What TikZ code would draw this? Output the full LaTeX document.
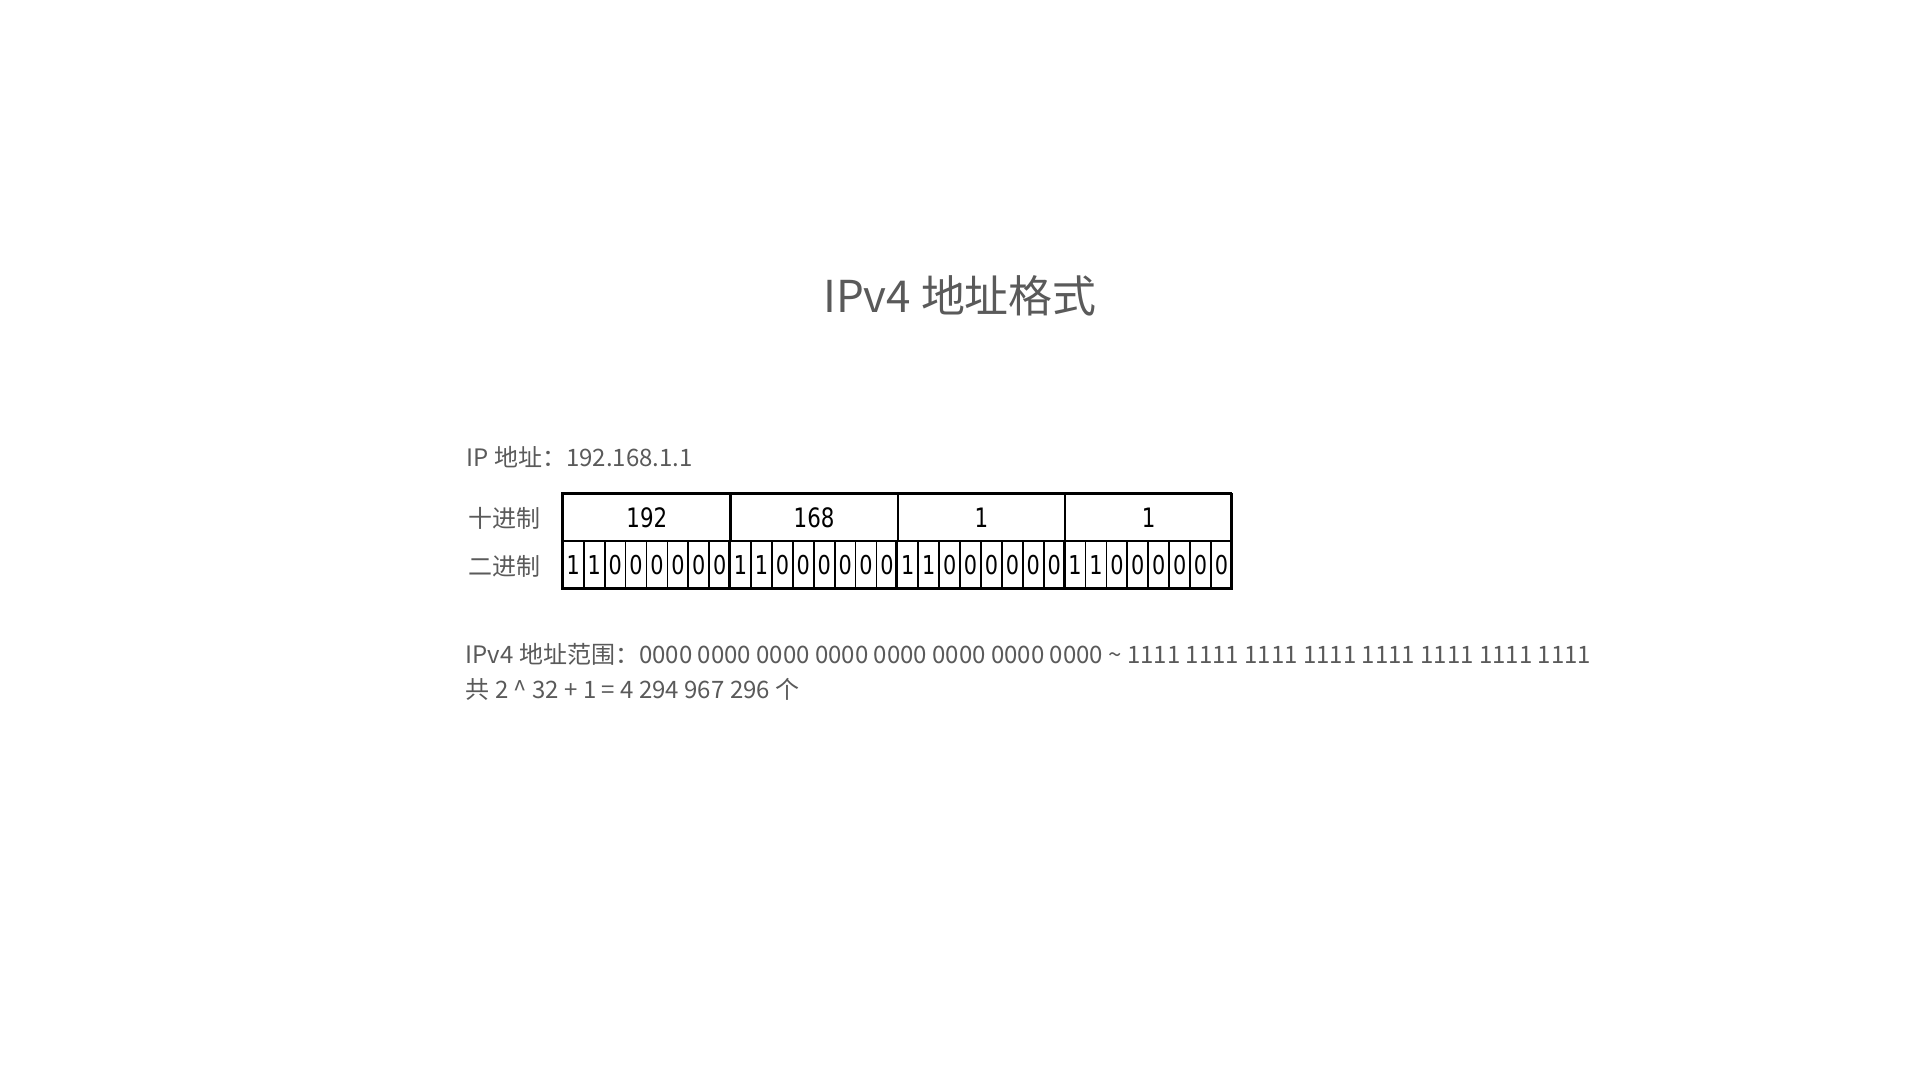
\documentclass[tikz,border=0pt]{standalone}
\usepackage{fontspec}
\setmainfont{Noto Sans CJK SC}
\newfontfamily\cellfont[FakeStretch=0.8]{DejaVu Sans}
\usepackage{xcolor}
\usepackage{tikz}
\usetikzlibrary{positioning, calc}
\definecolor{textgray}{RGB}{90,90,90}

\begin{document}
\begin{tikzpicture}[
    plaintext/.style={text=textgray, font=\fontsize{6.83}{8}\selectfont, inner sep=0pt, anchor=west},
    bytecell/.style={draw, line width=0.7pt, minimum width=1.6725cm, minimum height=0.47cm, inner sep=0pt, font=\cellfont\fontsize{7.6}{8}\selectfont},
    bitcell/.style={draw, line width=0.5pt, minimum width=0.2091cm, minimum height=0.48cm, inner sep=0pt, font=\cellfont\fontsize{7.4}{8}\selectfont}
]
    \useasboundingbox[fill=white] (0,0) rectangle (19.2,10.8);

    % Title
    \node[text=textgray, font=\fontsize{12.5}{14}\selectfont] (title) at (9.6,7.84) {IPv4 地址格式};

    % Example address
    \node[plaintext] (addr) at (4.66,6.23) {IP 地址：192.168.1.1};

    % Row labels
    \node[plaintext] (declabel) at (4.68,5.62) {十进制};
    \node[plaintext] (binlabel) at (4.68,5.14) {二进制};

    % Decimal row
    \foreach \val [count=\i from 0] in {192,168,1,1} {
        \node[bytecell, anchor=north west, text depth=-0.03cm] (byte\i) at ({5.62+1.6725*\i},5.87) {\val};
    }

    % Binary row
    \foreach \b [count=\j from 0] in {1,1,0,0,0,0,0,0,1,1,0,0,0,0,0,0,1,1,0,0,0,0,0,0,1,1,0,0,0,0,0,0} {
        \node[bitcell, anchor=north west] (bit\j) at ({5.62+0.20906*\j},5.40) {\b};
    }

    % Byte borders on the binary row
    \foreach \i in {0,...,3} {
        \draw[line width=0.7pt] (byte\i.south west) -- ++(0,-0.48);
    }
    \draw[line width=0.7pt] (byte0.north west) rectangle (12.31,4.92);

    % Range text
    \node[plaintext] (range) at (4.65,4.26) {IPv4 地址范围：0000 0000 0000 0000 0000 0000 0000 0000 \textasciitilde{} 1111 1111 1111 1111 1111 1111 1111 1111};
    \node[plaintext] (total) at (4.65,3.91) {共 2 \textasciicircum{} 32 + 1 = 4 294 967 296 个};
\end{tikzpicture}
\end{document}
